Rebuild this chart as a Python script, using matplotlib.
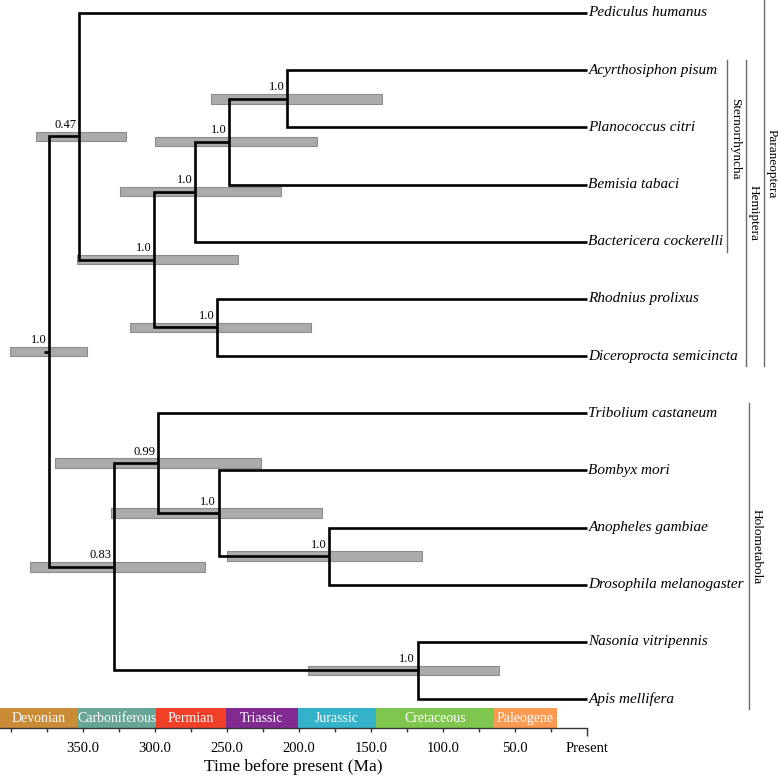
import matplotlib
matplotlib.use("Agg")
import matplotlib.pyplot as plt
import numpy as np

# ---------------- data ----------------
taxa = ["Pediculus humanus", "Acyrthosiphon pisum", "Planococcus citri",
        "Bemisia tabaci", "Bactericera cockerelli", "Rhodnius prolixus",
        "Diceroprocta semicincta", "Tribolium castaneum", "Bombyx mori",
        "Anopheles gambiae", "Drosophila melanogaster", "Nasonia vitripennis",
        "Apis mellifera"]

# internal nodes (ids continue after the 13 tips)
node_children = [(1, 2), (13, 3), (14, 4), (5, 6), (15, 16), (0, 17),
                 (9, 10), (8, 19), (7, 20), (11, 12), (21, 22), (18, 23)]
node_age = [208.3, 248.6, 272.2, 256.9, 300.7, 352.8,
            179.2, 255.6, 297.9, 117.4, 328.5, 373.6]
hpd_old = [261.1, 300.0, 324.3, 317.4, 354.2, 382.6,
           250.0, 330.6, 369.4, 193.8, 386.8, 400.7]
hpd_young = [142.4, 187.5, 212.5, 191.7, 242.4, 320.1,
             114.6, 184.0, 226.4, 61.1, 265.3, 347.2]
support = ["1.0", "1.0", "1.0", "1.0", "1.0", "0.47",
           "1.0", "1.0", "0.99", "1.0", "0.83", "1.0"]
root_stem = 3.5

clade_names = ["Sternorrhyncha", "Hemiptera", "Paraneoptera", "Holometabola"]
clade_first = [1, 1, 0, 7]
clade_last = [4, 6, 6, 12]

periods = ["Devonian", "Carboniferous", "Permian", "Triassic",
           "Jurassic", "Cretaceous", "Paleogene"]
period_start = [407.6, 353.5, 299.3, 250.7, 200.7, 146.5, 64.6]
period_end = [353.5, 299.3, 250.7, 200.7, 146.5, 64.6, 20.8]
period_colors = ["#CB8C37", "#67A599", "#F04028", "#812B92",
                 "#34B2C9", "#7FC64E", "#FD9A52"]

major_ticks = [400, 350, 300, 250, 200, 150, 100, 50, 0]
major_labels = ["", "350.0", "300.0", "250.0", "200.0", "150.0", "100.0", "50.0", "Present"]
minor_ticks = [375, 325, 275, 225, 175, 125, 75, 25]

# ---------------- figure ----------------
W, H = 778, 776
fig = plt.figure(figsize=(W / 100, H / 100), dpi=100)
serif = ["Liberation Serif", "DejaVu Serif"]
plt.rcParams["font.family"] = serif

px_per_ma = 1.44
x_present = 587
tip_y0, tip_dy = 13, 57.17

ax = fig.add_axes([0, 0, 1, 1])
ax.set_xlim(x_present / px_per_ma, -(W - x_present) / px_per_ma)
ax.set_ylim((H - tip_y0) / tip_dy, -tip_y0 / tip_dy)
ax.axis("off")

ntip = len(taxa)
ages = [0.0] * ntip + list(node_age)
ys = list(range(ntip)) + [None] * len(node_children)
for i, (a, b) in enumerate(node_children):
    ys[ntip + i] = (ys[a] + ys[b]) / 2.0

bar_h = 0.166
# HPD bars
for i in range(len(node_children)):
    y = ys[ntip + i]
    ax.barh(y, hpd_young[i] - hpd_old[i], left=hpd_old[i], height=bar_h,
            color="#ABABAB", edgecolor="#8C8C8C", linewidth=0.8, zorder=1)

# branches
lw = 1.9
for i, (a, b) in enumerate(node_children):
    n = ntip + i
    ax.plot([ages[a], ages[n], ages[n], ages[b]], [ys[a], ys[a], ys[b], ys[b]],
            color="black", lw=lw, solid_joinstyle="miter", solid_capstyle="butt", zorder=3)
root = ntip + len(node_children) - 1
ax.plot([ages[root] + root_stem, ages[root]], [ys[root], ys[root]], color="black",
        lw=lw, solid_capstyle="butt", zorder=3)

# support labels
for i in range(len(node_children)):
    n = ntip + i
    ax.annotate(support[i], (ages[n], ys[n]), xytext=(-2, 4), textcoords="offset points",
                ha="right", va="bottom", fontsize=9, zorder=4)

# tip labels
for i, t in enumerate(taxa):
    ax.annotate(t, (0, i), xytext=(1, 0), textcoords="offset points",
                ha="left", va="center", fontsize=11, style="italic")

# clade bars
clade_x = [-97.2, -110.4, -122.9, -112.5]
clade_text_y = [2.20, 3.50, 2.64, 9.34]
ext = 0.18
for k, name in enumerate(clade_names):
    top = clade_first[k] - ext if clade_first[k] > 0 else -0.23
    ax.plot([clade_x[k], clade_x[k]], [top, clade_last[k] + ext], color="#6A6A6A", lw=1.0)
    ax.annotate(name, (clade_x[k], clade_text_y[k]), xytext=(1.2, 0), textcoords="offset points",
                rotation=-90, ha="center", va="bottom", fontsize=9.5, rotation_mode="anchor")

# ---------------- time axis ----------------
ax2 = fig.add_axes([0, (H - 728) / H, x_present / W, 20 / H])
ax2.set_xlim(x_present / px_per_ma, 0)
ax2.set_ylim(0, 1)
for s, e, c, name in zip(period_start, period_end, period_colors, periods):
    ax2.axvspan(s, e, color=c, lw=0)
    ax2.text((s + e) / 2, 0.48, name, color="white", ha="center", va="center", fontsize=10)
for sp in ["top", "left", "right"]:
    ax2.spines[sp].set_visible(False)
ax2.spines["bottom"].set_color("#333333")
ax2.spines["bottom"].set_linewidth(1.0)
ax2.set_yticks([])
ax2.set_xticks(major_ticks)
ax2.set_xticklabels(major_labels, fontsize=10.5)
ax2.set_xticks(minor_ticks, minor=True)
ax2.tick_params(axis="x", which="both", direction="out", length=3, width=1,
                color="#333333", pad=7)
# the "Present" end tick is drawn longer in the original
ax2.xaxis.get_major_ticks()[-1].tick1line.set_markersize(5.5)
ax2.set_xlabel("Time before present (Ma)", fontsize=12.5, labelpad=3)
ax2.patch.set_alpha(0)

fig.savefig("out.png", dpi=100)
